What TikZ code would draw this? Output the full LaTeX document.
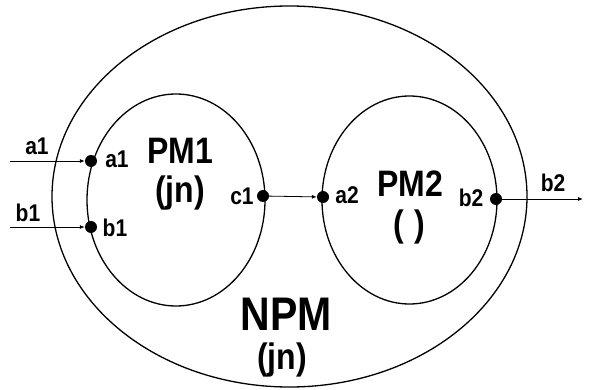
\documentclass[tikz,border=0pt]{standalone}
\usepackage{fontspec}
\usepackage{graphicx}
\setmainfont{Liberation Sans}
\usetikzlibrary{arrows.meta}
\newcommand\tallt[1]{\scalebox{1}[1.15]{#1}}
\begin{document}
\begin{tikzpicture}[x=1pt,y=-1pt,
  lbl/.style={font=\fontsize{21}{23}\selectfont\bfseries, inner sep=0pt},
  big/.style={font=\fontsize{32}{34}\selectfont\bfseries, inner sep=0pt},
  huge/.style={font=\fontsize{41}{43}\selectfont\bfseries, inner sep=0pt},
  port/.style={circle, fill=black, inner sep=0pt, minimum size=12pt},
  conn/.style={line width=0.8pt, -{Latex[length=5pt,width=4pt]}},
  outline/.style={line width=1.3pt}]
\useasboundingbox (0,0) rectangle (589,390);
% outer NPM
\draw[outline] (289.5,196.5) ellipse [x radius=237.5, y radius=190.5];
% PM1
\draw[outline] (176,200) ellipse [x radius=89, y radius=106];
% PM2
\draw[outline] (409.5,200) ellipse [x radius=87.5, y radius=104];
% ports
\node[port] (a1) at (91,161) {};
\node[port] (b1) at (91,227) {};
\node[port] (c1) at (263,196) {};
\node[port] (a2) at (323,197) {};
\node[port] (b2) at (496,199) {};
\coordinate (ina1) at (10,161);
\coordinate (inb1) at (10,227);
\coordinate (outb2) at (583,199);
\draw[conn] (ina1) -- (a1);
\draw[conn] (inb1) -- (b1);
\draw[conn] (c1) -- (a2);
\draw[conn] (b2) -- (outb2);
% labels
\node[lbl] (la1o) at (37,146) {\tallt{a1}};
\node[lbl] (lb1o) at (28,213) {\tallt{b1}};
\node[lbl] (la1i) at (117,159) {\tallt{a1}};
\node[lbl] (lb1i) at (115,228) {\tallt{b1}};
\node[lbl] (lc1) at (242,196) {\tallt{c1}};
\node[lbl] (la2) at (347,195) {\tallt{a2}};
\node[lbl] (lb2i) at (471,198) {\tallt{b2}};
\node[lbl] (lb2o) at (553,183) {\tallt{b2}};
\node[big] (pm1) at (180,151) {\tallt{PM1}};
\node[big] (pm1t) at (180,193) {\tallt{(jn)}};
\node[big] (pm2) at (410,184) {\tallt{PM2}};
\node[big] (pm2t) at (409,227) {\tallt{(\,\,)}};
\node[huge] (npm) at (286,314) {\tallt{NPM}};
\node[big] (npmt) at (282,360) {\tallt{(jn)}};
\end{tikzpicture}
\end{document}
